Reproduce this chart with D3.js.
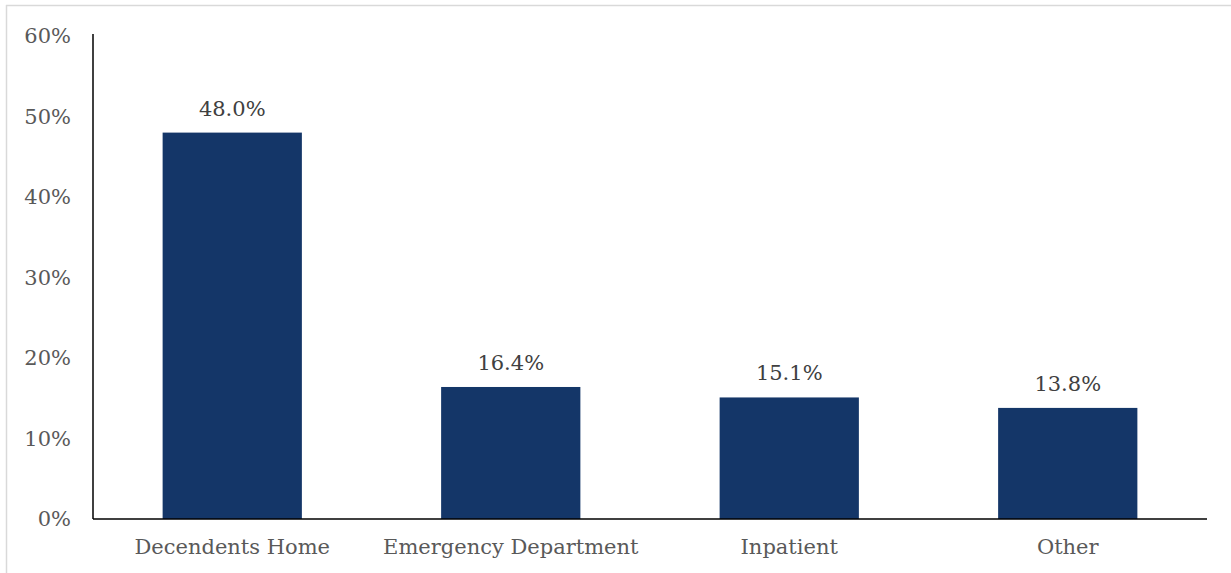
<!DOCTYPE html>
<html>
<head>
<meta charset="utf-8">
<script src="https://cdn.jsdelivr.net/npm/d3@7"></script>
<style>
  html, body { margin: 0; padding: 0; background: #fff; }
  svg { display: block; }
  text { font-family: Georgia, "DejaVu Serif", "Liberation Serif", serif; }
</style>
</head>
<body>
<svg id="chart" width="1231" height="573"></svg>
<script>
// Share of deaths by place of death
const categories = ["Decendents Home", "Emergency Department", "Inpatient", "Other"];
const values = [48.0, 16.4, 15.1, 13.8];
const yTicks = [0, 10, 20, 30, 40, 50, 60];

const W = 1231, H = 573;
const margin = { left: 93, right: 24, top: 36, bottom: 54 };
const fontSize = 21;

const svg = d3.select("#chart");

// Outer frame (left and top edges)
svg.append("line").attr("x1", 6.5).attr("x2", 6.5).attr("y1", 5).attr("y2", H)
  .attr("stroke", "#d9d9d9").attr("stroke-width", 1.5);
svg.append("line").attr("x1", 6).attr("x2", W).attr("y1", 5.5).attr("y2", 5.5)
  .attr("stroke", "#d9d9d9").attr("stroke-width", 1.5);

const x = d3.scaleBand()
  .domain(categories)
  .range([margin.left, W - margin.right])
  .paddingInner(0.5)
  .paddingOuter(0.25);

const y = d3.scaleLinear()
  .domain([0, 60])
  .range([H - margin.bottom, margin.top]);

// Bars
svg.append("g").selectAll("rect")
  .data(values)
  .join("rect")
  .attr("x", (d, i) => x(categories[i]))
  .attr("width", x.bandwidth())
  .attr("y", d => y(d))
  .attr("height", d => y(0) - y(d))
  .attr("fill", "#143668");

// Value labels
svg.append("g").selectAll("text")
  .data(values)
  .join("text")
  .attr("x", (d, i) => x(categories[i]) + x.bandwidth() / 2)
  .attr("y", d => y(d) - 17)
  .attr("text-anchor", "middle")
  .attr("font-size", fontSize)
  .attr("fill", "#404040")
  .text(d => d.toFixed(1) + "%");

// Y axis
const yAxis = svg.append("g")
  .attr("transform", `translate(${margin.left},0)`)
  .call(d3.axisLeft(y).tickValues(yTicks).tickSize(0).tickPadding(22).tickFormat(d => d + "%"));
yAxis.select(".domain").attr("stroke", "#000").attr("stroke-width", 1.5)
  .attr("d", `M0,${y(60) - 2}V${y(0)}`);
yAxis.selectAll("text").attr("font-size", fontSize).attr("fill", "#595959")
  .attr("font-family", 'Georgia, "DejaVu Serif", serif');

// X axis
const xAxis = svg.append("g")
  .attr("transform", `translate(0,${y(0)})`)
  .call(d3.axisBottom(x).tickSize(0).tickPadding(20));
xAxis.select(".domain").attr("stroke", "#000").attr("stroke-width", 1.5)
  .attr("d", `M${margin.left},0H${W - margin.right}`);
xAxis.selectAll("text").attr("font-size", fontSize).attr("fill", "#595959")
  .attr("font-family", 'Georgia, "DejaVu Serif", serif');
</script>
</body>
</html>
